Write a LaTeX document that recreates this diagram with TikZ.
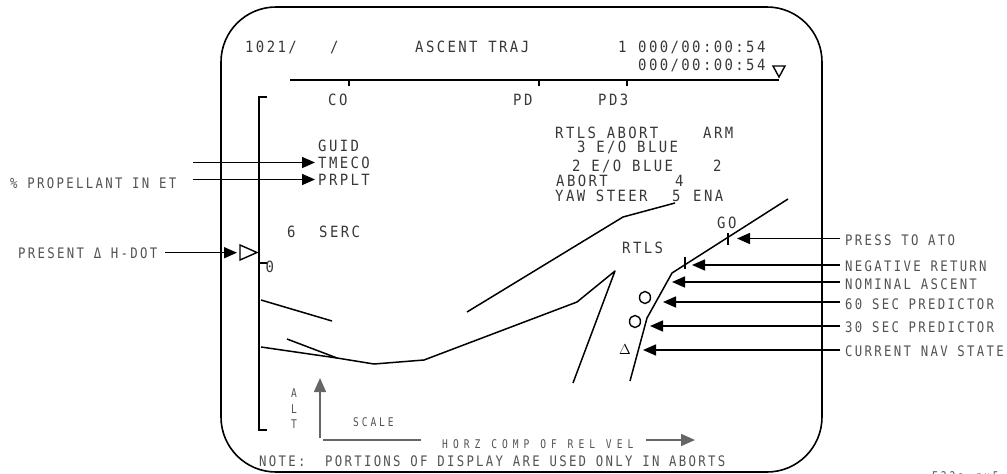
\documentclass[tikz,border=0pt]{standalone}
\usepackage{fontspec}
\usetikzlibrary{arrows.meta,shapes.geometric}
\newfontfamily\dispfont[FakeStretch=0.9,LetterSpace=15.5]{DejaVu Sans Mono}
\newfontfamily\lblfont[FakeStretch=0.85,LetterSpace=16]{DejaVu Sans Mono}
\newfontfamily\smlfont[FakeStretch=0.8,LetterSpace=24]{DejaVu Sans Mono}
\newfontfamily\widefont[FakeStretch=0.8,LetterSpace=42]{DejaVu Sans Mono}
\definecolor{txt}{gray}{0.22}
\definecolor{lbltxt}{gray}{0.32}
\definecolor{guide}{gray}{0.4}
\tikzset{
  disp/.style={font={\dispfont\fontsize{15.5}{17}\selectfont}, text=txt, inner sep=0pt, anchor=west, text height=11pt, text depth=0pt},
  lbl/.style={font={\lblfont\fontsize{14.5}{16}\selectfont}, text=lbltxt, inner sep=0pt, anchor=west, text height=10.5pt, text depth=0pt},
  sml/.style={font={\smlfont\fontsize{12}{14}\selectfont}, text=lbltxt, inner sep=0pt, anchor=west, text height=9pt, text depth=0pt},
  trace/.style={line width=1.5pt, line join=round},
  arr/.style={line width=1.5pt, -{Triangle[length=13pt,width=11pt]}},
  garr/.style={line width=1.6pt, draw=guide, -{Triangle[length=14pt,width=12pt]}},
  predmark/.style={draw, line width=1.4pt, ellipse, minimum width=11pt, minimum height=12pt, inner sep=0pt},
}
\begin{document}
\begin{tikzpicture}[x=1pt,y=-1pt]
\useasboundingbox (0,0) rectangle (1007,474);
% screen frame
\draw[line width=1.6pt, rounded corners=55pt] (221,7) rectangle (822,472);
% header
\node[disp] (h1) at (245,47) {1021/};
\node[disp] (h2) at (330,47) {/};
\node[disp] (h3) at (415,47) {ASCENT TRAJ};
\node[disp] (h4) at (618,47) {1};
\node[disp] (h5) at (638,47) {000/00:00:54};
\node[disp] (h6) at (638,65) {000/00:00:54};
\draw[line width=1.4pt] (773,66) -- (785,66) -- (779,77) -- cycle;
% time line
\coordinate (tl0) at (290,80);
\coordinate (tl1) at (779,80);
\draw[line width=1.5pt] (tl0) -- (tl1);
\foreach \x in {349,539,627} \draw[line width=1.5pt] (\x,80) -- (\x,86);
\node[disp] (co) at (328,100) {CO};
\node[disp] (pd) at (513,100) {PD};
\node[disp] (pd3) at (598,100) {PD3};
% altitude axis bracket
\draw[line width=1.5pt] (267,97) -- (259,97) -- (259,430) -- (267,430);
\draw[line width=1.3pt] (259,263) -- (267,263);
\node[disp] (zero) at (265.5,267) {0};
% left column
\node[disp] (guid) at (318,146) {GUID};
\node[disp] (tmeco) at (318,163) {TMECO};
\node[disp] (prplt) at (318,180) {PRPLT};
\node[disp] (six) at (287,232) {6};
\node[disp] (serc) at (319,232) {SERC};
% right block
\node[disp] (rtlsab) at (555,132.5) {RTLS ABORT};
\node[disp] (arm) at (703,132.5) {ARM};
\node[disp] (eo3) at (577,147) {3 E/O BLUE};
\node[disp] (eo2) at (572,166) {2 E/O BLUE};
\node[disp] (two) at (713,166) {2};
\node[disp] (abort) at (556,181) {ABORT};
\node[disp] (four) at (675,181) {4};
\node[disp] (yaw) at (555,196) {YAW STEER};
\node[disp] (five) at (672,196) {5};
\node[disp] (ena) at (693,196) {ENA};
\node[disp] (go) at (717,223) {GO};
\node[disp] (rtls) at (622,247.5) {RTLS};
% trajectory traces
\draw[trace] (261,300) -- (332,321);
\draw[trace] (261,347) -- (337,358) -- (374,364) -- (424,360) -- (577,302) -- (615,271) -- (573,383);
\draw[trace] (287,339) -- (337,358);
\draw[trace] (467,312) -- (623,217) -- (675,203);
\draw[trace] (788,199) -- (672,273) -- (647,318) -- (630,381);
\draw[line width=1.4pt] (728,233) -- (728,245);
\draw[line width=1.4pt] (685,257) -- (685,269);
\node[predmark] (p60) at (645,297.5) {};
\node[predmark] (p30) at (635,321.5) {};
\node[inner sep=0pt, font=\fontsize{15}{16}\selectfont] (nav) at (625,350) {$\Delta$};
% left callouts
\node[lbl] (prop) at (10,183) {\% PROPELLANT IN ET};
\node[lbl] (hdot) at (18,253) {PRESENT Δ H-DOT};
\coordinate (a1) at (193,162.5);
\coordinate (a2) at (193,179.5);
\coordinate (a3) at (165,252.7);
\draw[arr, shorten >=3pt] (a1) -- (a1 -| tmeco.west);
\draw[arr, shorten >=3pt] (a2) -- (a2 -| prplt.west);
\coordinate (tri) at (237,252.7);
\draw[arr] (a3) -- (tri);
\draw[line width=1.4pt, line join=miter] (240,245) -- (240,260) -- (257,252.5) -- cycle;
% right callouts
\node[lbl] (ato) at (845,240) {PRESS TO ATO};
\node[lbl] (neg) at (845,266) {NEGATIVE RETURN};
\node[lbl] (nom) at (845,284) {NOMINAL ASCENT};
\node[lbl] (s60) at (845,304) {60 SEC PREDICTOR};
\node[lbl] (s30) at (845,327) {30 SEC PREDICTOR};
\node[lbl] (cur) at (845,351) {CURRENT NAV STATE};
\coordinate (tA) at (737,238.5);
\coordinate (tB) at (692,265);
\coordinate (tC) at (672,282);
\coordinate (tD) at (663,302);
\coordinate (tE) at (650,326);
\coordinate (tF) at (643,350);
\foreach \t in {A,B,C,D,E,F} \draw[arr] (840,0 |- t\t) -- (t\t);
% scale
\node[sml, text height=8pt] (altA) at (291,393.5) {A};
\node[sml, text height=8pt] (altL) at (291,409) {L};
\node[sml, text height=8pt] (altT) at (291,424.5) {T};
\coordinate (v0) at (320,438);
\coordinate (v1) at (320,378);
\draw[garr] (v0) -- (v1);
\draw[line width=1.6pt, draw=guide] (323,440) -- (421,440);
\node[sml] (scale) at (353,422) {SCALE};
\node[sml, font={\widefont\fontsize{12}{14}\selectfont}] (horz) at (442,444) {HORZ COMP OF REL VEL};
\coordinate (hv0) at (646,440);
\coordinate (hv1) at (695,440);
\draw[garr] (hv0) -- (hv1);
\node[lbl] (note) at (259,461) {NOTE:\ \ PORTIONS OF DISPLAY ARE USED ONLY IN ABORTS};
\node[sml, anchor=north west, text height=9pt] (fig) at (932,471) {E22a\_ru5};
\end{tikzpicture}
\end{document}
